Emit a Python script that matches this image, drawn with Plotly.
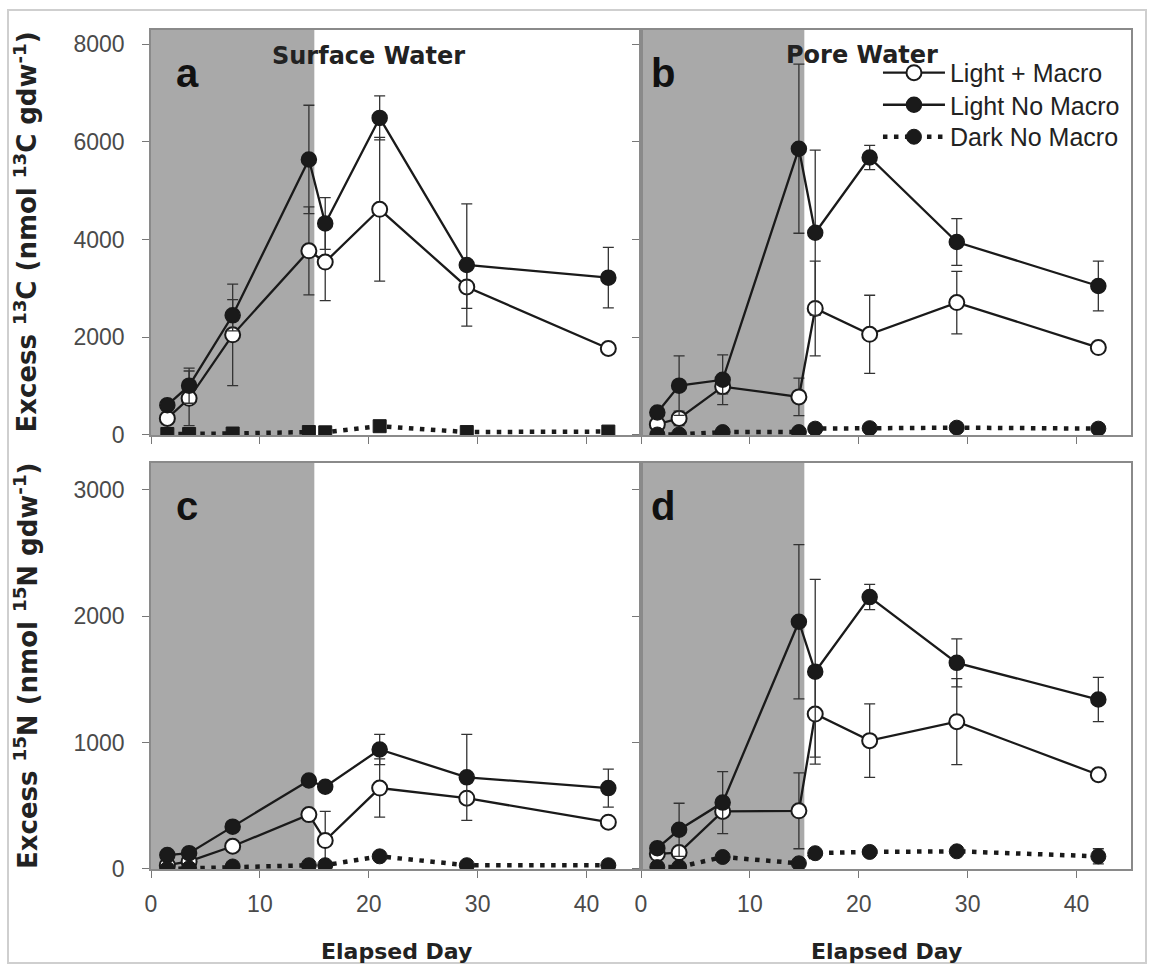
import plotly.graph_objects as go

# Sampling days
days = [1.5, 3.5, 7.5, 14.5, 16, 21, 29, 42]
shade_end = 15  # end of the shaded (dark-period) interval, days

# Panel a: surface water, excess 13C (nmol 13C gdw-1)
a_macro = [340, 750, 2050, 3770, 3540, 4620, 3030, 1770]
a_macro_err = [0, 560, 1040, 900, 790, 1470, 440, 0]
a_light = [610, 1010, 2450, 5640, 4330, 6490, 3480, 3220]
a_light_err = [50, 360, 320, 1110, 530, 450, 1250, 620]
a_dark = [20, 20, 30, 60, 55, 180, 60, 70]

# Panel b: pore water, excess 13C
b_macro = [220, 340, 990, 780, 2590, 2060, 2710, 1790]
b_macro_err = [100, 150, 150, 385, 970, 800, 640, 0]
b_light = [460, 1010, 1130, 5860, 4140, 5680, 3950, 3050]
b_light_err = [0, 610, 510, 1730, 1690, 250, 480, 510]
b_dark = [10, 10, 60, 60, 130, 140, 150, 130]

# Panel c: surface water, excess 15N (nmol 15N gdw-1)
c_macro = [30, 60, 180, 430, 225, 640, 560, 370]
c_macro_err = [0, 0, 0, 0, 230, 230, 0, 0]
c_light = [110, 125, 335, 700, 650, 945, 725, 640]
c_light_err = [0, 0, 0, 30, 0, 120, 340, 150]
c_dark = [0, 5, 20, 30, 30, 100, 30, 30]

# Panel d: pore water, excess 15N
d_macro = [120, 130, 455, 460, 1225, 1015, 1165, 745]
d_macro_err = [0, 0, 0, 300, 340, 290, 340, 0]
d_light = [165, 310, 525, 1955, 1560, 2150, 1630, 1340]
d_light_err = [0, 210, 245, 610, 730, 100, 190, 175]
d_dark = [15, 15, 95, 45, 125, 135, 140, 100]
d_dark_err = [0, 0, 0, 0, 0, 0, 0, 60]

x_ticks = [0, 10, 20, 30, 40]
c13_ticks = [0, 2000, 4000, 6000, 8000]
n15_ticks = [0, 1000, 2000, 3000]

series_names = ["Light + Macro", "Light No Macro", "Dark No Macro"]

ARIAL = "Liberation Sans, Arial, sans-serif"
DEJAVU = "DejaVu Sans, sans-serif"
INK = "#1a1a1a"

fig = go.Figure()


def err(arr):
    return dict(type="data", array=arr, visible=True, color="#333333",
                thickness=1.3, width=5.5)


def add_panel(ax, macro, macro_err, light, light_err, dark, dark_err,
              dark_symbol, legend):
    xa, ya = ("x", "y") if ax == 1 else (f"x{ax}", f"y{ax}")
    fig.add_trace(go.Scatter(
        x=days, y=macro, xaxis=xa, yaxis=ya, mode="lines+markers",
        name=series_names[0], showlegend=legend, legend="legend",
        line=dict(color=INK, width=2.3),
        marker=dict(symbol="circle", size=15, color="white",
                    line=dict(color=INK, width=2)),
        error_y=err(macro_err)))
    fig.add_trace(go.Scatter(
        x=days, y=light, xaxis=xa, yaxis=ya, mode="lines+markers",
        name=series_names[1], showlegend=legend, legend="legend2",
        line=dict(color=INK, width=2.3),
        marker=dict(symbol="circle", size=15, color=INK,
                    line=dict(color=INK, width=1.5)),
        error_y=err(light_err)))
    fig.add_trace(go.Scatter(
        x=days, y=dark, xaxis=xa, yaxis=ya, mode="lines+markers",
        name=series_names[2], showlegend=legend, legend="legend3",
        line=dict(color=INK, width=4.5, dash="4.5px,6.5px"),
        marker=dict(symbol=dark_symbol, size=15 if dark_symbol == "circle" else 13,
                    color=INK, line=dict(color=INK, width=1)),
        error_y=err(dark_err)))


zeros = [0] * len(days)
add_panel(1, a_macro, a_macro_err, a_light, a_light_err, a_dark, zeros, "square", False)
add_panel(2, b_macro, b_macro_err, b_light, b_light_err, b_dark, zeros, "circle", True)
add_panel(3, c_macro, c_macro_err, c_light, c_light_err, c_dark, zeros, "circle", False)
add_panel(4, d_macro, d_macro_err, d_light, d_light_err, d_dark, d_dark_err, "circle", False)

top_dom = [0.5173, 1.0]
bot_dom = [0.0, 0.4839]

axis_common = dict(showline=True, mirror=True, linecolor="#8a8a8a", linewidth=1.5,
                   ticks="outside", ticklen=7, tickwidth=1.2, tickcolor="#777777",
                   showgrid=False, zeroline=False,
                   tickfont=dict(family=ARIAL, size=23, color="#4a4a4a"))

layout_axes = {}
for i, (dom_x, dom_y, anchor_x, anchor_y) in enumerate([
        ([0, 0.5], top_dom, "y", "x"),
        ([0.5, 1], top_dom, "y2", "x2"),
        ([0, 0.5], bot_dom, "y3", "x3"),
        ([0.5, 1], bot_dom, "y4", "x4")], start=1):
    sfx = "" if i == 1 else str(i)
    layout_axes[f"xaxis{sfx}"] = dict(
        axis_common, domain=dom_x, anchor=anchor_x, range=[0, 45],
        tickvals=x_ticks, showticklabels=i >= 3, ticklabelstandoff=7)
    layout_axes[f"yaxis{sfx}"] = dict(
        axis_common, domain=dom_y, anchor=anchor_y,
        range=[0, 8290] if i <= 2 else [0, 3210],
        tickvals=c13_ticks if i <= 2 else n15_ticks,
        showticklabels=i in (1, 3), ticklabelstandoff=13)

shapes = []
for i in range(1, 5):
    sfx = "" if i == 1 else str(i)
    shapes.append(dict(type="rect", xref=f"x{sfx}", yref=f"y{sfx} domain",
                       x0=0, x1=shade_end, y0=0, y1=1, layer="below",
                       fillcolor="#a9a9a9", line=dict(width=0)))
# light outer frame around the figure
shapes.append(dict(type="rect", xref="paper", yref="paper",
                   x0=-0.1459, x1=1.0153, y0=-0.112, y1=1.0238,
                   line=dict(color="#cfcfcf", width=2), layer="below"))

annotations = []
for i, letter in zip(range(1, 5), "abcd"):
    sfx = "" if i == 1 else str(i)
    annotations.append(dict(
        text=letter, xref=f"x{sfx} domain", yref=f"y{sfx} domain",
        x=0.074 if i in (1, 3) else 0.045, y=0.895, xanchor="center", yanchor="middle",
        showarrow=False, font=dict(family=ARIAL, size=40, color="#111111", weight="bold")))

annotations.append(dict(text="Surface Water", xref="x domain", yref="y domain",
                        x=0.444, y=0.936, xanchor="center", yanchor="middle",
                        showarrow=False,
                        font=dict(family=DEJAVU, size=24, color="#222222", weight="bold")))
annotations.append(dict(text="Pore Water", xref="x2 domain", yref="y2 domain",
                        x=0.45, y=0.938, xanchor="center", yanchor="middle",
                        showarrow=False,
                        font=dict(family=DEJAVU, size=24, color="#222222", weight="bold")))

for xr in ("x3 domain", "x4 domain"):
    annotations.append(dict(text="Elapsed Day", xref=xr, yref="paper",
                            x=0.5, y=-0.0989, xanchor="center", yanchor="middle",
                            showarrow=False,
                            font=dict(family=DEJAVU, size=22, color="#222222", weight="bold")))

annotations.append(dict(
    text="Excess <sup>13</sup>C (nmol <sup>13</sup>C gdw<sup>-1</sup>)",
    xref="paper", yref="y domain", x=-0.1275, y=0.5, xanchor="center", yanchor="middle",
    textangle=-90, showarrow=False,
    font=dict(family=DEJAVU, size=26, color="#222222", weight="bold")))
annotations.append(dict(
    text="Excess <sup>15</sup>N (nmol <sup>15</sup>N gdw<sup>-1</sup>)",
    xref="paper", yref="y3 domain", x=-0.1275, y=0.5, xanchor="center", yanchor="middle",
    textangle=-90, showarrow=False,
    font=dict(family=DEJAVU, size=26, color="#222222", weight="bold")))

legend_common = dict(xanchor="left", yanchor="top", bgcolor="rgba(0,0,0,0)",
                     borderwidth=0, itemwidth=62,
                     font=dict(family=ARIAL, size=25, color="#222222"))

fig.update_layout(
    width=1149, height=966,
    margin=dict(l=151, r=18, t=30, b=97),
    paper_bgcolor="white", plot_bgcolor="white",
    shapes=shapes, annotations=annotations,
    legend=dict(legend_common, x=0.7418, y=0.9762),
    legend2=dict(legend_common, x=0.7418, y=0.938),
    legend3=dict(legend_common, x=0.7418, y=0.8999),
    **layout_axes,
)

fig.write_html("out.html")
